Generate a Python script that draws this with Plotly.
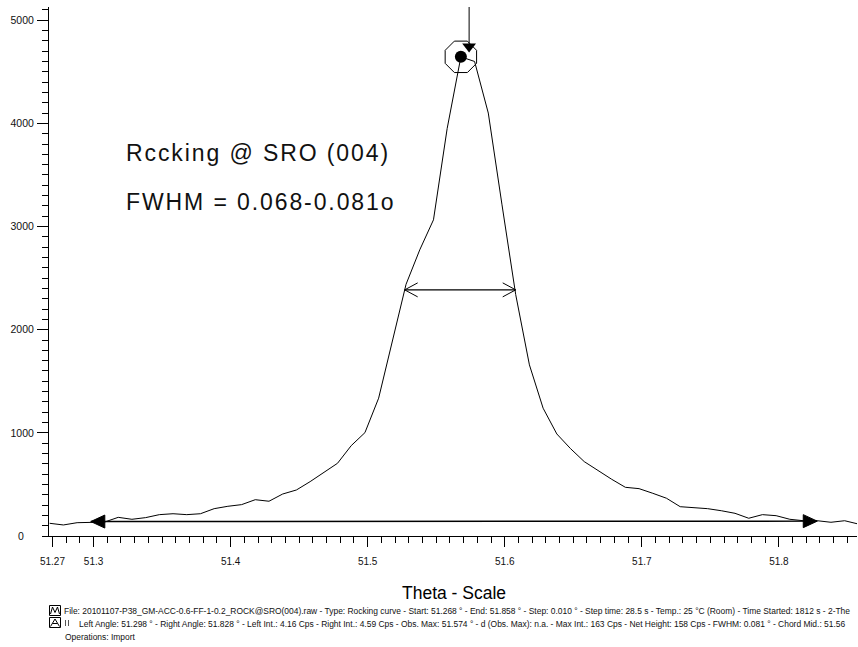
import plotly.graph_objects as go

# ---------------- data ----------------
theta = [51.268, 51.278, 51.288, 51.298, 51.308, 51.318, 51.328, 51.338, 51.348, 51.358,
         51.368, 51.378, 51.388, 51.398, 51.408, 51.418, 51.428, 51.438, 51.448, 51.458,
         51.468, 51.478, 51.488, 51.498, 51.508, 51.518, 51.528, 51.538, 51.548, 51.558,
         51.568, 51.578, 51.588, 51.598, 51.608, 51.618, 51.628, 51.638, 51.648, 51.658,
         51.668, 51.678, 51.688, 51.698, 51.708, 51.718, 51.728, 51.738, 51.748, 51.758,
         51.768, 51.778, 51.788, 51.798, 51.808, 51.818, 51.828, 51.838, 51.848, 51.858]
counts = [123, 107, 129, 129, 135, 181, 162, 178, 207, 216,
          207, 216, 265, 288, 304, 352, 337, 407, 446, 527,
          614, 705, 876, 1002, 1336, 1901, 2440, 2774, 3065, 3950,
          4645, 4600, 4100, 3210, 2340, 1659, 1239, 989, 847, 721,
          633, 550, 472, 459, 414, 366, 284, 274, 265, 245,
          220, 172, 207, 197, 162, 148, 148, 133, 148, 116]

peak_x = [51.568]
peak_y = [4645]
obs_max_x = [51.574]
obs_max_marker_y = [4745]
top_y = 5128

baseline_x = [51.298, 51.828]
baseline_y = [140, 144]

fwhm_x = [51.527, 51.608]
fwhm_y = [2386, 2386]

x_tickvals = [51.27, 51.3, 51.35, 51.4, 51.45, 51.5, 51.55, 51.6, 51.65, 51.7, 51.75, 51.8, 51.85]
x_ticktext = ["51.27", "51.3", "", "51.4", "", "51.5", "", "51.6", "", "51.7", "", "51.8", ""]
x_minor = [round(51.27 + 0.01 * i, 2) for i in range(59)]
y_tickvals = [0, 1000, 2000, 3000, 4000, 5000]
y_ticktext = ["", "1000", "2000", "3000", "4000", "5000"]
y_minor = [100 * i for i in range(52)]

title_text = "Theta - Scale"
label1 = "Rccking @ SRO (004)"
label2 = "FWHM = 0.068-0.081o"
footer1 = ("File: 20101107-P38_GM-ACC-0.6-FF-1-0.2_ROCK@SRO(004).raw - Type: Rocking curve - "
           "Start: 51.268 ° - End: 51.858 ° - Step: 0.010 ° - Step time: 28.5 s - "
           "Temp.: 25 °C (Room) - Time Started: 1812 s - 2-The")
footer2 = ("Left Angle: 51.298 ° - Right Angle: 51.828 ° - Left Int.: 4.16 Cps - Right Int.: 4.59 Cps - "
           "Obs. Max: 51.574 ° - d (Obs. Max): n.a. - Max Int.: 163 Cps - Net Height: 158 Cps - "
           "FWHM: 0.081 ° - Chord Mid.: 51.56")
footer3 = "Operations: Import"

# ---------------- layout helpers ----------------
W, H = 858, 647
ML, MR, MT, MB = 49, 1, 7, 111


def px(x):
    return (x - ML) / (W - ML - MR)


def py(y):
    return (H - MB - y) / (H - MT - MB)


FONT = "Liberation Sans, Arial, sans-serif"

fig = go.Figure()

# main curve
fig.add_trace(go.Scatter(x=theta, y=counts, mode="lines",
                         line=dict(color="#000000", width=1), hoverinfo="skip"))
# background line
fig.add_trace(go.Scatter(x=baseline_x, y=baseline_y, mode="lines",
                         line=dict(color="#000000", width=1.4), hoverinfo="skip"))
# FWHM chord
fig.add_trace(go.Scatter(x=fwhm_x, y=fwhm_y, mode="lines",
                         line=dict(color="#000000", width=1.3), hoverinfo="skip"))
# obs max vertical line
fig.add_trace(go.Scatter(x=[obs_max_x[0], obs_max_x[0]], y=[obs_max_marker_y[0], top_y], mode="lines",
                         line=dict(color="#000000", width=1), hoverinfo="skip"))
# peak markers
fig.add_trace(go.Scatter(x=peak_x, y=peak_y, mode="markers",
                         marker=dict(symbol="octagon-open", size=34, color="#000000",
                                     line=dict(width=1, color="#000000")), hoverinfo="skip"))
fig.add_trace(go.Scatter(x=peak_x, y=peak_y, mode="markers",
                         marker=dict(symbol="circle", size=12, color="#000000"), hoverinfo="skip"))
fig.add_trace(go.Scatter(x=obs_max_x, y=obs_max_marker_y, mode="markers",
                         marker=dict(symbol="triangle-down", size=12, color="#000000"), hoverinfo="skip"))

shapes = []
# filled arrowheads on the background line
shapes.append(dict(type="path", xref="x", yref="y", xsizemode="pixel", ysizemode="pixel",
                   xanchor=baseline_x[0], yanchor=baseline_y[0],
                   path="M0,0 L14,6.5 L14,-6.5 Z", fillcolor="#000000", line=dict(color="#000000", width=1)))
shapes.append(dict(type="path", xref="x", yref="y", xsizemode="pixel", ysizemode="pixel",
                   xanchor=baseline_x[1], yanchor=baseline_y[1],
                   path="M0,0 L-14,6.5 L-14,-6.5 Z", fillcolor="#000000", line=dict(color="#000000", width=1)))
# open arrowheads on FWHM chord
shapes.append(dict(type="path", xref="x", yref="y", xsizemode="pixel", ysizemode="pixel",
                   xanchor=fwhm_x[0], yanchor=fwhm_y[0],
                   path="M13,7 L0,0 L13,-7", line=dict(color="#000000", width=1)))
shapes.append(dict(type="path", xref="x", yref="y", xsizemode="pixel", ysizemode="pixel",
                   xanchor=fwhm_x[1], yanchor=fwhm_y[1],
                   path="M-13,7 L0,0 L-13,-7", line=dict(color="#000000", width=1)))

# footer icons
for (y0, y1) in [(605.5, 615.5), (617.5, 627.5)]:
    shapes.append(dict(type="rect", xref="paper", yref="paper",
                       x0=px(49.5), x1=px(60.5), y0=py(y1), y1=py(y0),
                       line=dict(color="#000000", width=1)))
shapes.append(dict(type="path", xref="paper", yref="paper",
                   path="M{},{} L{},{} L{},{} L{},{} L{},{}".format(
                       px(50.5), py(614), px(52.5), py(607), px(55), py(612.5), px(57.5), py(607), px(59.5), py(614)),
                   line=dict(color="#000000", width=1)))
shapes.append(dict(type="path", xref="paper", yref="paper",
                   path="M{},{} L{},{} L{},{} M{},{} L{},{}".format(
                       px(50.5), py(626.5), px(55), py(619), px(59.5), py(626.5), px(52.5), py(623.5), px(57.5), py(623.5)),
                   line=dict(color="#000000", width=1)))
shapes.append(dict(type="line", xref="paper", yref="paper",
                   x0=px(65.5), x1=px(65.5), y0=py(626), y1=py(620), line=dict(color="#555555", width=1)))
shapes.append(dict(type="line", xref="paper", yref="paper",
                   x0=px(68.5), x1=px(68.5), y0=py(626), y1=py(620), line=dict(color="#555555", width=1)))

annotations = [
    dict(text=label1, xref="paper", yref="paper", x=px(124), y=py(153), xanchor="left", yanchor="middle",
         showarrow=False, font=dict(family=FONT, size=23, color="#111111")),
    dict(text=label2, xref="paper", yref="paper", x=px(124), y=py(202), xanchor="left", yanchor="middle",
         showarrow=False, font=dict(family=FONT, size=23, color="#111111")),
    dict(text=title_text, xref="paper", yref="paper", x=px(454.5), y=py(593), xanchor="center", yanchor="middle",
         showarrow=False, font=dict(family=FONT, size=17.5, color="#000000")),
    dict(text=footer1, xref="paper", yref="paper", x=px(62), y=py(610.5), xanchor="left", yanchor="middle",
         showarrow=False, font=dict(family=FONT, size=8.45, color="#111111")),
    dict(text=footer2, xref="paper", yref="paper", x=px(77), y=py(623.5), xanchor="left", yanchor="middle",
         showarrow=False, font=dict(family=FONT, size=8.45, color="#111111")),
    dict(text=footer3, xref="paper", yref="paper", x=px(63), y=py(637), xanchor="left", yanchor="middle",
         showarrow=False, font=dict(family=FONT, size=8.45, color="#111111")),
    dict(text="0", xref="paper", yref="y", x=px(21), y=0, xanchor="center", yanchor="middle",
         showarrow=False, font=dict(family=FONT, size=10.5, color="#111111")),
]

fig.update_layout(
    width=W, height=H,
    margin=dict(l=ML, r=MR, t=MT, b=MB, pad=0),
    paper_bgcolor="white", plot_bgcolor="white",
    showlegend=False,
    shapes=shapes, annotations=annotations,
    xaxis=dict(range=[51.2675, 51.857], showgrid=False, zeroline=False,
               showline=True, linecolor="#000000", linewidth=1,
               ticks="outside", ticklen=10, tickwidth=1, tickcolor="#000000",
               tickmode="array", tickvals=x_tickvals, ticktext=x_ticktext,
               tickfont=dict(family=FONT, size=10, color="#111111"),
               ticklabelstandoff=6,
               minor=dict(tickmode="array", tickvals=x_minor, ticks="outside", ticklen=6,
                          tickwidth=1, tickcolor="#000000", showgrid=False)),
    yaxis=dict(range=[0, top_y], showgrid=False, zeroline=False,
               showline=True, linecolor="#000000", linewidth=1,
               ticks="outside", ticklen=11, tickwidth=1, tickcolor="#000000",
               tickmode="array", tickvals=y_tickvals, ticktext=y_ticktext,
               tickfont=dict(family=FONT, size=10.5, color="#111111"),
               ticklabelstandoff=1,
               minor=dict(tickmode="array", tickvals=y_minor, ticks="outside", ticklen=6,
                          tickwidth=1, tickcolor="#000000", showgrid=False)),
)

# widen the letter spacing of the two large labels, as in the original,
# keeping their left edge where plotly placed it
post_js = """
var gd = document.getElementById('{plot_id}');
function spread() {
  gd.querySelectorAll('.annotation-text').forEach(function (t) {
    var s = t.textContent;
    if ((s.indexOf('Rccking') === 0 || s.indexOf('FWHM =') === 0) && !t.getAttribute('data-spread')) {
      var w0 = t.getComputedTextLength();
      t.style.letterSpacing = '1.9px';
      var w1 = t.getComputedTextLength();
      t.setAttribute('transform', 'translate(' + ((w1 - w0) / 2) + ',0)');
      t.setAttribute('data-spread', '1');
    }
  });
}
spread();
gd.on('plotly_afterplot', spread);
"""

fig.write_html("out.html", post_script=post_js)
